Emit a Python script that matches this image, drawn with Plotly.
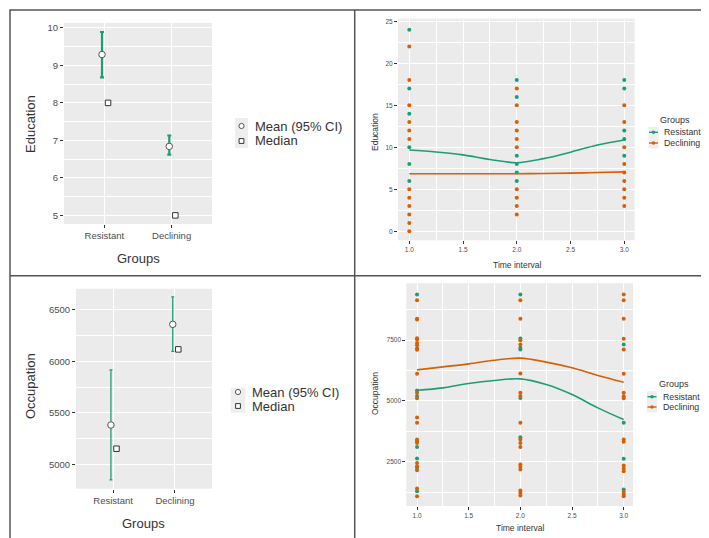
import plotly.graph_objects as go

W, H = 709, 538
FONT = "Liberation Sans, Arial, sans-serif"
TEAL = "#1B9E77"
ORANGE = "#D95F02"

# ---------------- data ----------------
groups = ["Resistant", "Declining"]
edu_mean = [9.29, 6.84]
edu_ci_low = [8.68, 6.62]
edu_ci_high = [9.89, 7.13]
edu_median = [8.0, 5.0]

occ_mean = [5381, 6358]
occ_ci_low = [4848, 6096]
occ_ci_high = [5917, 6625]
occ_median = [5151, 6115]

time_points = [1.0, 2.0, 3.0]
edu_res = {1.0: [24, 17, 14, 10, 8, 6],
           2.0: [18, 16, 9, 8, 7, 6],
           3.0: [18, 17, 12, 11, 9]}
edu_dec = {1.0: [22, 18, 15, 13, 12, 11, 5, 4, 3, 2, 1, 0],
           2.0: [17, 15, 13, 12, 11, 10, 5, 4, 3, 2],
           3.0: [15, 13, 10, 8, 7, 6, 5, 4, 3]}

occ_res = {1.0: [9370, 5425, 5200, 3340, 3100, 2630, 2250, 1290],
           2.0: [9370, 7560, 7180, 7110, 5120, 3500],
           3.0: [7315, 4100, 2620, 1360]}
occ_dec = {1.0: [9137, 8370, 8340, 7576, 7520, 7380, 7280, 7150, 7100, 6110, 5330,
                 5110, 4315, 4096, 3410, 3270, 2450, 2315, 2150, 1400, 1080],
           2.0: [9137, 8370, 7490, 7315, 6120, 5330, 5200, 4096, 3410, 3270, 3100,
                 2380, 2290, 2180, 1315, 1220, 1110],
           3.0: [9370, 9137, 8370, 7550, 7110, 6110, 5330, 5190, 5110, 3410, 3315,
                 2340, 2220, 2110, 1250, 1150, 1080]}

smooth_x = [1.0, 1.25, 1.5, 1.75, 2.0, 2.25, 2.5, 2.75, 3.0]
edu_res_smooth = [9.68, 9.44, 9.10, 8.55, 8.17, 8.65, 9.42, 10.28, 10.87]
edu_dec_smooth = [6.85, 6.85, 6.85, 6.85, 6.86, 6.88, 6.93, 7.00, 7.07]
occ_res_smooth = [5438, 5534, 5712, 5836, 5904, 5671, 5260, 4712, 4230]
occ_dec_smooth = [6274, 6397, 6520, 6670, 6754, 6590, 6356, 6041, 5767]

# ---------------- helpers ----------------
def px(x):
    return x / W

def py(y):
    return 1 - y / H

fig = go.Figure()

cat_pos = [i + 1 for i in range(len(groups))]
MEAN_OFF, MED_OFF = -0.035, 0.055


def summary_panel(xa, ya, mean, lo, hi, med, thick, capw):
    fig.add_trace(go.Scatter(
        x=[p + MEAN_OFF for p in cat_pos], y=mean, mode="markers",
        xaxis=xa, yaxis=ya, showlegend=False,
        marker=dict(symbol="circle", size=6.5, color="white",
                    line=dict(color="#555555", width=1)),
        error_y=dict(type="data", symmetric=False,
                     array=[h - m for h, m in zip(hi, mean)],
                     arrayminus=[m - l for m, l in zip(mean, lo)],
                     color=TEAL, thickness=thick, width=capw)))
    fig.add_trace(go.Scatter(
        x=[p + MED_OFF for p in cat_pos], y=med, mode="markers",
        xaxis=xa, yaxis=ya, showlegend=False,
        marker=dict(symbol="square", size=5.5, color="white",
                    line=dict(color="#333333", width=1))))


def scatter_panel(xa, ya, res, dec, res_s, dec_s):
    for data, col in ((res, TEAL), (dec, ORANGE)):
        xs, ys = [], []
        for t in time_points:
            xs += [t] * len(data[t])
            ys += data[t]
        fig.add_trace(go.Scatter(x=xs, y=ys, mode="markers", xaxis=xa, yaxis=ya,
                                 showlegend=False,
                                 marker=dict(size=4, color=col, line=dict(width=0))))
    for s, col in ((res_s, TEAL), (dec_s, ORANGE)):
        fig.add_trace(go.Scatter(x=smooth_x, y=s, mode="lines", xaxis=xa, yaxis=ya,
                                 showlegend=False,
                                 line=dict(color=col, width=1.6, shape="spline")))


summary_panel("x", "y", edu_mean, edu_ci_low, edu_ci_high, edu_median, 2.2, 2)
summary_panel("x3", "y3", occ_mean, occ_ci_low, occ_ci_high, occ_median, 1.3, 1.5)
scatter_panel("x2", "y2", edu_res, edu_dec, edu_res_smooth, edu_dec_smooth)
scatter_panel("x4", "y4", occ_res, occ_dec, occ_res_smooth, occ_dec_smooth)

TICKFONT_BIG = dict(family=FONT, size=9.5, color="#4D4D4D")
TICKFONT_SMALL = dict(family=FONT, size=6.5, color="#4D4D4D")


def ax(domain, rng, tickfont, **kw):
    d = dict(domain=domain, range=rng, showgrid=True, gridcolor="white",
             gridwidth=1.2, zeroline=False, showline=False, ticks="outside",
             ticklen=3, tickwidth=1, tickcolor="#333333", tickfont=tickfont,
             fixedrange=True)
    d.update(kw)
    return d


minor_style = dict(showgrid=True, gridcolor="white", gridwidth=0.6, ticks="")

fig.update_layout(
    width=W, height=H, margin=dict(l=0, r=0, t=0, b=0),
    paper_bgcolor="white", plot_bgcolor="#EBEBEB", showlegend=False,
    font=dict(family=FONT),
    # panel 1
    xaxis=ax([px(56), px(204)], [0.4, 2.6], TICKFONT_BIG,
             tickvals=cat_pos, ticktext=groups, anchor="y"),
    yaxis=ax([py(216), py(15)], [4.77, 10.13], TICKFONT_BIG,
             tick0=5, dtick=1, anchor="x",
             minor=dict(tick0=4.5, dtick=1, **minor_style)),
    # panel 2
    xaxis2=ax([px(390), px(626.7)], [0.895, 3.097], TICKFONT_SMALL,
              tick0=1, dtick=0.5, tickformat=".1f", anchor="y2",
              minor=dict(tick0=0.75, dtick=0.5, **minor_style)),
    yaxis2=ax([py(232.3), py(10.7)], [-1.07, 25.31], TICKFONT_SMALL,
              tick0=0, dtick=5, anchor="x2",
              minor=dict(tick0=-2.5, dtick=5, **minor_style)),
    # panel 3
    xaxis3=ax([px(68), px(204)], [0.4, 2.6], TICKFONT_BIG,
              tickvals=cat_pos, ticktext=groups, anchor="y3"),
    yaxis3=ax([py(480.7), py(280.7)], [4763, 6704], TICKFONT_BIG,
              tick0=5000, dtick=500, tickformat="d", anchor="x3",
              minor=dict(tick0=4750, dtick=500, **minor_style)),
    # panel 4
    xaxis4=ax([px(398.3), px(625)], [0.896, 3.09], TICKFONT_SMALL,
              tick0=1, dtick=0.5, tickformat=".1f", anchor="y4",
              minor=dict(tick0=0.75, dtick=0.5, **minor_style)),
    yaxis4=ax([py(498), py(275.3)], [679, 9830], TICKFONT_SMALL,
              tick0=2500, dtick=2500, tickformat="d", anchor="x4",
              minor=dict(tick0=1250, dtick=2500, **minor_style)),
)

shapes = []
annotations = []


def text(x, y, s, size, color="#333333", angle=0, xanchor="center"):
    annotations.append(dict(x=px(x), y=py(y), xref="paper", yref="paper", text=s,
                            showarrow=False, textangle=angle, xanchor=xanchor,
                            yanchor="middle",
                            font=dict(family=FONT, size=size, color=color)))


# axis titles
text(22, 116, "Education", 13, angle=-90)
text(130, 250, "Groups", 13)
text(22, 378, "Occupation", 13, angle=-90)
text(135, 515, "Groups", 13)
text(367, 124, "Education", 8.5, angle=-90)
text(509, 256.7, "Time interval", 8.5)
text(367, 386, "Occupation", 8.5, angle=-90)
text(512, 520.3, "Time interval", 8.5)


def summary_legend(x0, x1, y0, y1, yc1, yc2, tx):
    shapes.append(dict(type="rect", xref="paper", yref="paper", x0=px(x0), x1=px(x1),
                       y0=py(y1), y1=py(y0), fillcolor="#EEEEEE", line=dict(width=0)))
    cx = (x0 + x1) / 2
    r = 2.6
    shapes.append(dict(type="circle", xref="paper", yref="paper",
                       x0=px(cx - r), x1=px(cx + r), y0=py(yc1 + r), y1=py(yc1 - r),
                       fillcolor="white", line=dict(color="#555555", width=1)))
    s = 2.4
    shapes.append(dict(type="rect", xref="paper", yref="paper",
                       x0=px(cx - s), x1=px(cx + s), y0=py(yc2 + s), y1=py(yc2 - s),
                       fillcolor="white", line=dict(color="#333333", width=1)))
    text(tx, yc1, "Mean (95% CI)", 13, xanchor="left")
    text(tx, yc2, "Median", 13, xanchor="left")


summary_legend(227, 240, 110, 140, 118, 133, 245)
summary_legend(222.7, 237.3, 379.7, 404.7, 384, 398, 242)


def group_legend(title_x, title_y, kx0, kx1, yc1, yc2, tx):
    text(title_x, title_y, "Groups", 9, xanchor="left")
    shapes.append(dict(type="rect", xref="paper", yref="paper", x0=px(kx0 - 0.5),
                       x1=px(kx1 + 0.5), y0=py(yc2 + 5.5), y1=py(yc1 - 5.5),
                       fillcolor="#EEEEEE", line=dict(width=0)))
    for yc, col in ((yc1, TEAL), (yc2, ORANGE)):
        shapes.append(dict(type="line", xref="paper", yref="paper", x0=px(kx0),
                           x1=px(kx1), y0=py(yc), y1=py(yc),
                           line=dict(color=col, width=1.4)))
        cx = (kx0 + kx1) / 2
        r = 1.7
        shapes.append(dict(type="circle", xref="paper", yref="paper",
                           x0=px(cx - r), x1=px(cx + r), y0=py(yc + r), y1=py(yc - r),
                           fillcolor=col, line=dict(width=0)))
    text(tx, yc1, "Resistant", 8.8, xanchor="left")
    text(tx, yc2, "Declining", 8.8, xanchor="left")


group_legend(649.5, 111.7, 641, 650, 124.3, 135, 654)
group_legend(649, 375.7, 639.5, 648.5, 388.7, 399, 653)

# panel borders
bc = dict(color="#555555", width=1.5)
shapes.append(dict(type="rect", xref="paper", yref="paper", x0=px(2), x1=px(706),
                   y0=py(533), y1=py(2), line=bc, fillcolor="rgba(0,0,0,0)"))
shapes.append(dict(type="line", xref="paper", yref="paper", x0=px(346.7), x1=px(346.7),
                   y0=py(533), y1=py(2), line=bc))
shapes.append(dict(type="line", xref="paper", yref="paper", x0=px(2), x1=px(706),
                   y0=py(267.7), y1=py(267.7), line=bc))

fig.update_layout(shapes=shapes, annotations=annotations)
fig.write_html("out.html")
